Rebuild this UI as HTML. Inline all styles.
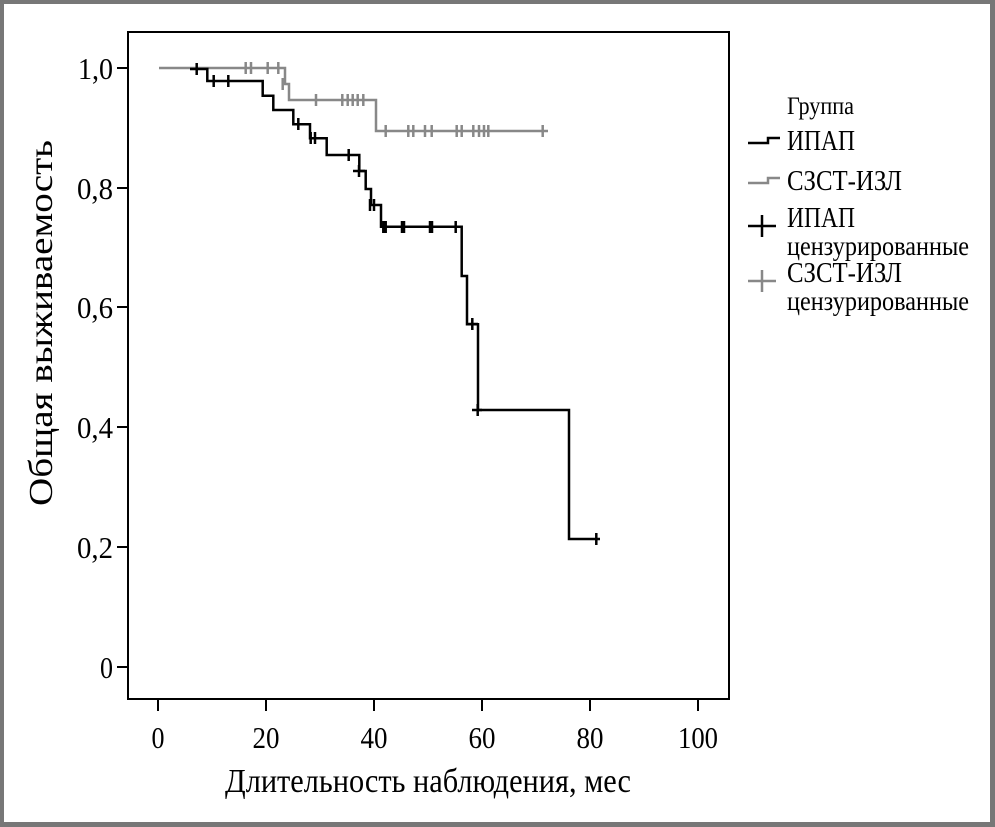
<!DOCTYPE html>
<html><head><meta charset="utf-8"><style>
html,body{margin:0;padding:0;background:#fff}
svg{display:block}
text{font-family:"Liberation Serif",serif;fill:#000}
</style></head><body>
<svg width="995" height="827" viewBox="0 0 995 827" xmlns="http://www.w3.org/2000/svg">
<rect x="0" y="0" width="995" height="827" fill="#777"/>
<rect x="4" y="4" width="986" height="818" fill="#fff"/>
<rect x="128" y="32" width="601" height="667" fill="none" stroke="#000" stroke-width="2"/>
<g stroke="#000" stroke-width="2">
<line x1="117" y1="68" x2="128" y2="68"/><line x1="117" y1="188" x2="128" y2="188"/>
<line x1="117" y1="307" x2="128" y2="307"/><line x1="117" y1="427" x2="128" y2="427"/>
<line x1="117" y1="547" x2="128" y2="547"/><line x1="117" y1="667" x2="128" y2="667"/>
<line x1="158" y1="699" x2="158" y2="711"/><line x1="266" y1="699" x2="266" y2="711"/>
<line x1="374" y1="699" x2="374" y2="711"/><line x1="482" y1="699" x2="482" y2="711"/>
<line x1="590" y1="699" x2="590" y2="711"/><line x1="698" y1="699" x2="698" y2="711"/>
</g>
<g font-size="31" text-anchor="end">
<text x="113" y="79" textLength="35" lengthAdjust="spacingAndGlyphs">1,0</text>
<text x="113" y="199" textLength="36" lengthAdjust="spacingAndGlyphs">0,8</text>
<text x="113" y="318" textLength="36" lengthAdjust="spacingAndGlyphs">0,6</text>
<text x="113" y="438" textLength="36" lengthAdjust="spacingAndGlyphs">0,4</text>
<text x="113" y="558" textLength="36" lengthAdjust="spacingAndGlyphs">0,2</text>
<text x="113" y="678" textLength="13" lengthAdjust="spacingAndGlyphs">0</text>
</g>
<g font-size="31" text-anchor="middle">
<text x="158" y="748" textLength="13" lengthAdjust="spacingAndGlyphs">0</text>
<text x="266" y="748" textLength="27" lengthAdjust="spacingAndGlyphs">20</text>
<text x="374" y="748" textLength="27" lengthAdjust="spacingAndGlyphs">40</text>
<text x="482" y="748" textLength="27" lengthAdjust="spacingAndGlyphs">60</text>
<text x="590" y="748" textLength="27" lengthAdjust="spacingAndGlyphs">80</text>
<text x="698" y="748" textLength="40" lengthAdjust="spacingAndGlyphs">100</text>
</g>
<text x="428" y="792" font-size="34" text-anchor="middle" textLength="406" lengthAdjust="spacingAndGlyphs">Длительность наблюдения, мес</text>
<text transform="translate(52,323) rotate(-90)" font-size="34" text-anchor="middle" textLength="366" lengthAdjust="spacingAndGlyphs">Общая выживаемость</text>

<polyline fill="none" stroke="#888" stroke-width="2.5" points="159,68 285,68 285,84 289,84 289,100 376,100 376,131 548,131"/>
<g stroke="#888" stroke-width="2.5">
<path d="M245.7,62v12M251,62v12M267.7,62v12M278.3,62v12M282.7,78v12M316,94v12M342.3,94v12M347.7,94v12M352.7,94v12M357.7,94v12M363.3,94v12M385.7,125v12M408.3,125v12M413.3,125v12M425,125v12M431.7,125v12M456.7,125v12M461.7,125v12M473.3,125v12M479,125v12M484,125v12M488.3,125v12M542.7,125v12"/>
</g>
<polyline fill="none" stroke="#000" stroke-width="2.5" points="190,69 207.3,69 207.3,81 262.7,81 262.7,95.7 273.3,95.7 273.3,110 293.3,110 293.3,124.3 310,124.3 310,138.3 326.7,138.3 326.7,155 359.3,155 359.3,171 365.7,171 365.7,189 371,189 371,205 381,205 381,226.7 461.7,226.7 461.7,276 467,276 467,324.3 478,324.3 478,410 569,410 569,539 600,539"/>
<g stroke="#000" stroke-width="2.5">
<path d="M196.7,63v12M213.7,75v12M228.3,75v12M298.3,118v12M310.7,132v12M315,132v12M348.7,149v12M359,165v12M370,199v12M374,199v12M383.3,221v12M385.7,221v12M402,221v12M404,221v12M430,221v12M432,221v12M455.7,221v12M472.3,318v12M477.7,404v12M596.3,533v12"/>
<path d="M353,171h12M466,324h12M472,410h10"/>
</g>

<text x="787" y="114" font-size="25" textLength="67" lengthAdjust="spacingAndGlyphs">Группа</text>
<polyline fill="none" stroke="#000" stroke-width="2.5" points="748,143 768,143 768,138 780,138"/>
<text x="787" y="150" font-size="29" textLength="68" lengthAdjust="spacingAndGlyphs">ИПАП</text>
<polyline fill="none" stroke="#888" stroke-width="2.5" points="748,183 768,183 768,178 780,178"/>
<text x="787" y="190" font-size="29" textLength="115" lengthAdjust="spacingAndGlyphs">СЗСТ-ИЗЛ</text>
<path d="M748,226h28M762,215v22" stroke="#000" stroke-width="2.5"/>
<text x="787" y="227" font-size="29" textLength="68" lengthAdjust="spacingAndGlyphs">ИПАП</text>
<text x="787" y="255" font-size="27" textLength="182" lengthAdjust="spacingAndGlyphs">цензурированные</text>
<path d="M748,281h28M762,270v22" stroke="#888" stroke-width="2.5"/>
<text x="787" y="282" font-size="29" textLength="115" lengthAdjust="spacingAndGlyphs">СЗСТ-ИЗЛ</text>
<text x="787" y="310" font-size="27" textLength="182" lengthAdjust="spacingAndGlyphs">цензурированные</text>
</svg>
</body></html>
